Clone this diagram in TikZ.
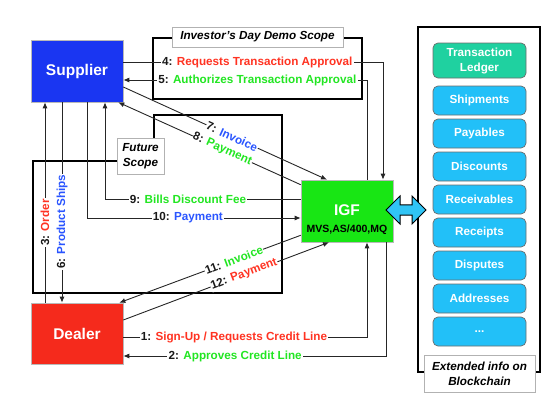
\documentclass[tikz,border=0pt]{standalone}
\usepackage{fontspec}
\setmainfont{Liberation Sans}
\usetikzlibrary{arrows.meta,shapes.arrows}
\definecolor{supblue}{HTML}{1A36F2}
\definecolor{dealred}{HTML}{F52A1C}
\definecolor{igfgreen}{HTML}{18E614}
\definecolor{ledteal}{HTML}{1FD1A0}
\definecolor{itemblue}{HTML}{22C0F8}
\definecolor{arrcyan}{HTML}{30C4F5}
\definecolor{txred}{HTML}{FF3322}
\definecolor{txgreen}{HTML}{22E622}
\definecolor{txblue}{HTML}{2A55FF}
\newcommand{\cred}[1]{\textcolor{txred}{#1}}
\newcommand{\cgreen}[1]{\textcolor{txgreen}{#1}}
\newcommand{\cblue}[1]{\textcolor{txblue}{#1}}
\begin{document}
\begin{tikzpicture}[x=1pt,y=-1pt,
  font=\bfseries\fontsize{11.7}{14}\selectfont,
  conn/.style={draw=black!85, line width=0.9pt, -{Latex[length=6pt,width=5pt]}},
  lbl/.style={fill=white, inner sep=1.2pt, text=black!90},
  slbl/.style={lbl, sloped, inner sep=0.6pt},
  scopeline/.style={draw=black, line width=2.2pt},
  tag/.style={draw=gray!60, fill=white, line width=0.8pt, align=center,
    font=\bfseries\itshape\fontsize{11.7}{15}\selectfont},
  party/.style={draw=gray!55, line width=0.6pt, minimum width=92pt, minimum height=62pt,
    text=white, font=\bfseries\fontsize{15.5}{18}\selectfont},
  item/.style={draw=gray!85!black, rounded corners=5pt, fill=itemblue, minimum width=93pt,
    minimum height=29pt, text=white, line width=0.7pt, align=center,
    font=\bfseries\fontsize{11.7}{15}\selectfont}]
\useasboundingbox (0,0) rectangle (558,402);

% scope outlines
\draw[scopeline] (33,293) -- (33,161) -- (154,161) -- (154,115) -- (282,115) -- (282,293) -- cycle;
\draw[scopeline] (153,38) rectangle (362,99);

% main parties
\node[party, fill=supblue] (sup) at (77,71) {Supplier};
\node[party, fill=dealred, minimum height=61pt] (deal) at (77,333.5) {Dealer};
\node[party, fill=igfgreen] (igf) at (347,211)
  {\raisebox{-9pt}[\height][\depth]{\begin{tabular}{@{}c@{}}IGF\\[-1pt]{\color{black}\fontsize{10.5}{12}\selectfont MVS,AS/400,MQ}\end{tabular}}};

% blockchain container
\node[draw=black, line width=2.2pt, minimum width=122pt, minimum height=345pt] (chain) at (479,199.5) {};
\node[item, fill=ledteal, minimum height=35pt] (led) at (479.5,60.5) {Transaction\\Ledger};
\node[item] (ship) at (479.5,100.5) {Shipments};
\node[item] (pay)  at (479.5,133.5) {Payables};
\node[item] (disc) at (479.5,166.5) {Discounts};
\node[item] (recv) at (479.5,199.5) {Receivables};
\node[item] (rcpt) at (479.5,232.5) {Receipts};
\node[item] (disp) at (479.5,265.5) {Disputes};
\node[item] (addr) at (479.5,298.5) {Addresses};
\node[item] (more) at (479.5,331.5) {...};
\node[tag, minimum width=111pt, minimum height=37pt, inner sep=1pt] (ext) at (479.5,373.5) {Extended info on\\Blockchain};

% double arrow
\node[double arrow, draw=black, line width=1pt, fill=arrcyan, minimum height=40pt,
  minimum width=28pt, inner sep=4pt, double arrow head extend=8pt] (arr) at (406,210) {};

% connectors
\draw[conn] ([yshift=9pt]sup.east) -| ([xshift=36pt]igf.north)
  node[lbl,pos=0.258]{4: \cred{Requests Transaction Approval}};
\draw[conn] ([xshift=20pt]igf.north) |- ([yshift=-9pt]sup.east)
  node[lbl,pos=0.725]{5: \cgreen{Authorizes Transaction Approval}};
\draw[conn] ([yshift=-16pt]sup.east) -- ([xshift=-20pt]igf.north)
  node[slbl,pos=0.534]{7: \cblue{Invoice}};
\draw[conn] ([yshift=-5pt]igf.north west) -- ([xshift=-5pt]sup.south east)
  node[slbl,pos=0.43]{8: \cgreen{Payment}};
\draw[conn] ([xshift=-32pt]deal.north) -- ([xshift=-32pt]sup.south)
  node[lbl,rotate=90,pos=0.40]{3: \cred{Order}};
\draw[conn] ([xshift=-15pt]sup.south) -- ([xshift=-15pt]deal.north)
  node[lbl,rotate=90,pos=0.597]{6: \cblue{Product Ships}};
\draw[conn] ([yshift=12pt]igf.west) -| ([xshift=28pt]sup.south)
  node[lbl,pos=0.288]{9: \cgreen{Bills Discount Fee}};
\draw[conn] ([xshift=10pt]sup.south) |- ([yshift=-7pt]igf.west)
  node[lbl,pos=0.736]{10: \cblue{Payment}};
\draw[conn] ([yshift=7pt]igf.south west) -- ([xshift=-4pt]deal.north east)
  node[slbl,pos=0.368]{11: \cgreen{Invoice}};
\draw[conn] ([yshift=13.5pt]deal.east) -- ([xshift=-18pt]igf.south)
  node[slbl,pos=0.587]{12: \cred{Payment}};
\draw[conn] ([yshift=-3.5pt]deal.east) -| ([xshift=20pt]igf.south)
  node[lbl,pos=0.227]{1: \cred{Sign-Up / Requests Credit Line}};
\draw[conn] ([xshift=39pt]igf.south) |- ([yshift=-22.5pt]deal.east)
  node[lbl,pos=0.787]{2: \cgreen{Approves Credit Line}};

% scope tags
\node[tag, minimum width=171pt, minimum height=20pt, inner sep=1pt] (inv) at (257.5,37) {Investor’s Day Demo Scope};
\node[tag, minimum width=47pt, minimum height=36pt, inner sep=1pt] (fut) at (140.5,156) {Future\\Scope};
\end{tikzpicture}
\end{document}
